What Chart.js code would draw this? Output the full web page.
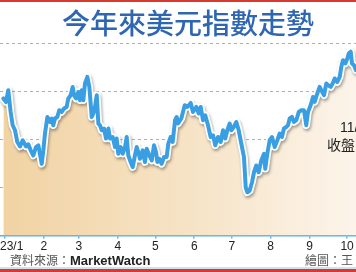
<!DOCTYPE html>
<html>
<head>
<meta charset="utf-8">
<script src="https://cdn.jsdelivr.net/npm/chart.js@4.4.0/dist/chart.umd.min.js"></script>
<style>
  html, body { margin: 0; padding: 0; background: #ffffff; }
  #wrap { position: relative; width: 356px; height: 272px; overflow: hidden; background: #ffffff; }
  #c { position: absolute; left: -22px; top: 0; }
  .t { position: absolute; white-space: nowrap; }
  #title { left: 62px; top: 6px; font-family: "Noto Sans CJK TC", sans-serif; font-size: 28px; line-height: 32px; color: #2e66b2; font-weight: 500; }
  #src { left: 10px; top: 252px; font-size: 12px; line-height: 16px; color: #555; font-family: "Noto Sans CJK TC", sans-serif; }
  #src b { font-family: "Liberation Sans", Arial, sans-serif; font-size: 13px; color: #222; font-weight: bold; }
  #draw { left: 305px; top: 252px; font-size: 12px; line-height: 16px; color: #555; font-family: "Noto Sans CJK TC", sans-serif; }
  #ann1 { left: 340px; top: 118px; font-size: 14px; line-height: 18px; color: #222; font-family: "Liberation Sans", Arial, sans-serif; }
  #ann2 { left: 327px; top: 135px; font-size: 14px; line-height: 18px; color: #222; font-family: "Noto Sans CJK TC", sans-serif; }
  #redTop { left: 0; top: 0; width: 356px; height: 2px; background: #d8392e; }
  #blueBot { left: 0; top: 267px; width: 356px; height: 2px; background: #cfe0ef; }
  #redBot { left: 0; top: 269px; width: 356px; height: 3px; background: #d8392e; }
</style>
</head>
<body>
<div id="wrap">
  <canvas id="c" width="400" height="272"></canvas>
  <div class="t" id="redTop"></div>
  <div class="t" id="title">今年來美元指數走勢</div>
  <div class="t" id="ann1">11/</div>
  <div class="t" id="ann2">收盤1</div>
  <div class="t" id="src">資料來源：<b>MarketWatch</b></div>
  <div class="t" id="draw">繪圖：王</div>
  <div class="t" id="blueBot"></div>
  <div class="t" id="redBot"></div>
</div>
<script>
// ---- data (day of year 2023, US Dollar Index close) ----
const days = [
  -1.3,0.8,2.6,4.5,6.1,8.0,9.8,12.0,14.1,16.8,
  18.6,20.5,22.6,24.7,26.6,29.3,30.6,31.9,33.8,35.9,
  37.3,38.5,39.9,41.7,43.3,45.2,47.1,49.2,50.5,52.4,
  54.0,55.1,56.7,58.5,59.9,61.2,62.5,63.8,65.7,67.3,
  69.2,70.5,71.8,73.2,74.5,75.8,77.2,79.0,80.6,82.5,
  83.8,85.9,87.8,89.1,90.4,92.3,93.9,95.8,97.1,98.4,
  100.3,101.9,103.7,105.1,106.4,107.7,109.9,111.7,113.1,115.2,
  117.1,118.9,120.5,121.6,123.1,125.0,126.9,129.0,130.3,132.2,
  133.8,135.7,137.0,
  138.1,140.7,143.4,145.5,148.2,150.0,152.7,154.6,156.2,158.0,
  159.8,162.0,164.1,166.0,167.8,170.0,172.1,174.0,175.8,177.4,
  179.3,180.6,182.5,184.6,186.5,188.6,190.7,192.1,193.4,195.3,
  197.1,198.7,200.5,202.4,204.5,206.7,207.7,209.3,211.2,213.1,
  215.2,217.3,219.2,221.0,222.6,224.5,225.8,227.2,229.0,230.6,
  232.5,234.4,236.5,238.6,240.4,241.8,243.9,245.8,247.1,249.2,
  251.1,252.4,254.6,256.4,257.8,259.9,261.7,263.1,265.2,267.1,
  268.4,269.7,271.6,273.2,274.3,275.9,276.9,278.5,280.1
];
const dxy = [
  104.62,104.44,105.05,103.92,103.23,102.97,102.36,102.13,102.45,102.13,
  102.24,101.93,101.66,102.10,102.19,101.23,101.93,102.80,103.66,103.40,
  103.58,103.23,103.58,103.66,104.01,103.92,104.10,104.18,104.62,104.79,
  105.22,104.79,104.62,104.96,104.53,105.05,104.53,105.40,105.74,105.22,
  103.66,103.84,104.18,104.79,103.32,103.23,102.97,103.06,102.54,103.06,
  102.54,102.62,102.10,102.54,101.75,102.10,101.75,102.10,102.62,101.66,
  101.32,101.06,101.66,102.10,101.84,101.49,101.93,101.32,102.01,101.66,
  101.40,102.19,101.84,101.32,101.49,101.23,101.58,101.58,102.27,102.62,
  102.36,103.49,103.66,
  103.32,103.58,104.27,104.18,104.39,103.92,104.18,103.84,104.18,103.49,
  103.75,103.23,102.62,102.71,102.19,102.62,102.36,102.97,102.54,102.97,
  103.32,102.97,103.14,103.40,102.97,102.27,101.58,100.01,99.75,99.84,
  100.27,100.79,101.14,100.79,101.40,101.75,100.97,101.75,102.45,102.62,
  102.10,102.45,102.80,102.62,103.06,103.14,103.23,103.58,103.66,103.40,
  103.49,103.92,104.01,104.01,103.23,103.92,104.27,104.70,104.44,104.88,
  105.22,105.05,104.79,105.40,105.31,105.22,105.43,105.66,105.48,105.74,
  106.27,106.61,106.44,106.70,106.96,107.05,106.44,106.35,106.09
];
const monthDays = [0,31,59,90,120,151,181,212,243,273];
const monthLabels = ['2023/1','2','3','4','5','6','7','8','9','10'];
const yTicks = [97.5,100,102.5,105,107.5];

const points = days.map((d, i) => ({ x: d, y: dxy[i] }));

function fillGradient(context) {
  const chart = context.chart;
  const area = chart.chartArea;
  if (!area) return '#f3dcb4';
  const g = chart.ctx.createLinearGradient(area.left, 0, area.right, 0);
  g.addColorStop(0, '#f1d3a3');
  g.addColorStop(0.5, '#f6e2c4');
  g.addColorStop(1, '#fcf4ea');
  return g;
}

const shadowPlugin = {
  id: 'lineShadow',
  beforeDatasetDraw(chart, args) {
    if (args.index === 1) {
      const c = chart.ctx;
      c.save();
      c.shadowColor = 'rgba(0,0,0,0.35)';
      c.shadowBlur = 3;
      c.shadowOffsetX = 1;
      c.shadowOffsetY = 2;
    }
  },
  afterDatasetDraw(chart, args) {
    if (args.index === 1) chart.ctx.restore();
  }
};

new Chart(document.getElementById('c'), {
  type: 'line',
  data: {
    datasets: [
      { data: points, borderColor: '#3a9fe2', borderWidth: 4, pointRadius: 0, tension: 0, fill: false,
        borderJoinStyle: 'round', borderCapStyle: 'round', order: 0 },
      { data: points, borderColor: '#ffffff', borderWidth: 7.5, pointRadius: 0, tension: 0, fill: false,
        borderJoinStyle: 'round', borderCapStyle: 'round', order: 1 },
      { data: points, borderWidth: 0, pointRadius: 0, tension: 0, fill: 'start',
        backgroundColor: fillGradient, order: 2 }
    ]
  },
  options: {
    responsive: false,
    animation: false,
    devicePixelRatio: 1,
    layout: { padding: { top: 33.4, bottom: 17, left: 22, right: 22 } },
    plugins: { legend: { display: false }, tooltip: { enabled: false }, title: { display: false } },
    scales: {
      x: {
        type: 'linear', min: -4, max: 280.1,
        afterBuildTicks: (s) => { s.ticks = monthDays.map(v => ({ value: v })); },
        ticks: {
          callback: (v, i) => monthLabels[i],
          autoSkip: false, maxRotation: 0, padding: 1,
          color: '#222', font: { family: 'Liberation Sans, Arial, sans-serif', size: 12 }
        },
        grid: { drawOnChartArea: false, drawTicks: true, tickLength: 3, color: '#5eb0e5', lineWidth: 1.5 },
        border: { display: true, color: '#5eb0e5', width: 1.5 }
      },
      y: {
        min: 97.5, max: 108,
        afterBuildTicks: (s) => { s.ticks = yTicks.map(v => ({ value: v })); },
        ticks: { display: false },
        grid: { drawTicks: false, color: '#7dbde8', lineWidth: 1 },
        border: { display: false, dash: [3, 3] }
      }
    }
  },
  plugins: [shadowPlugin]
});
</script>
</body>
</html>
